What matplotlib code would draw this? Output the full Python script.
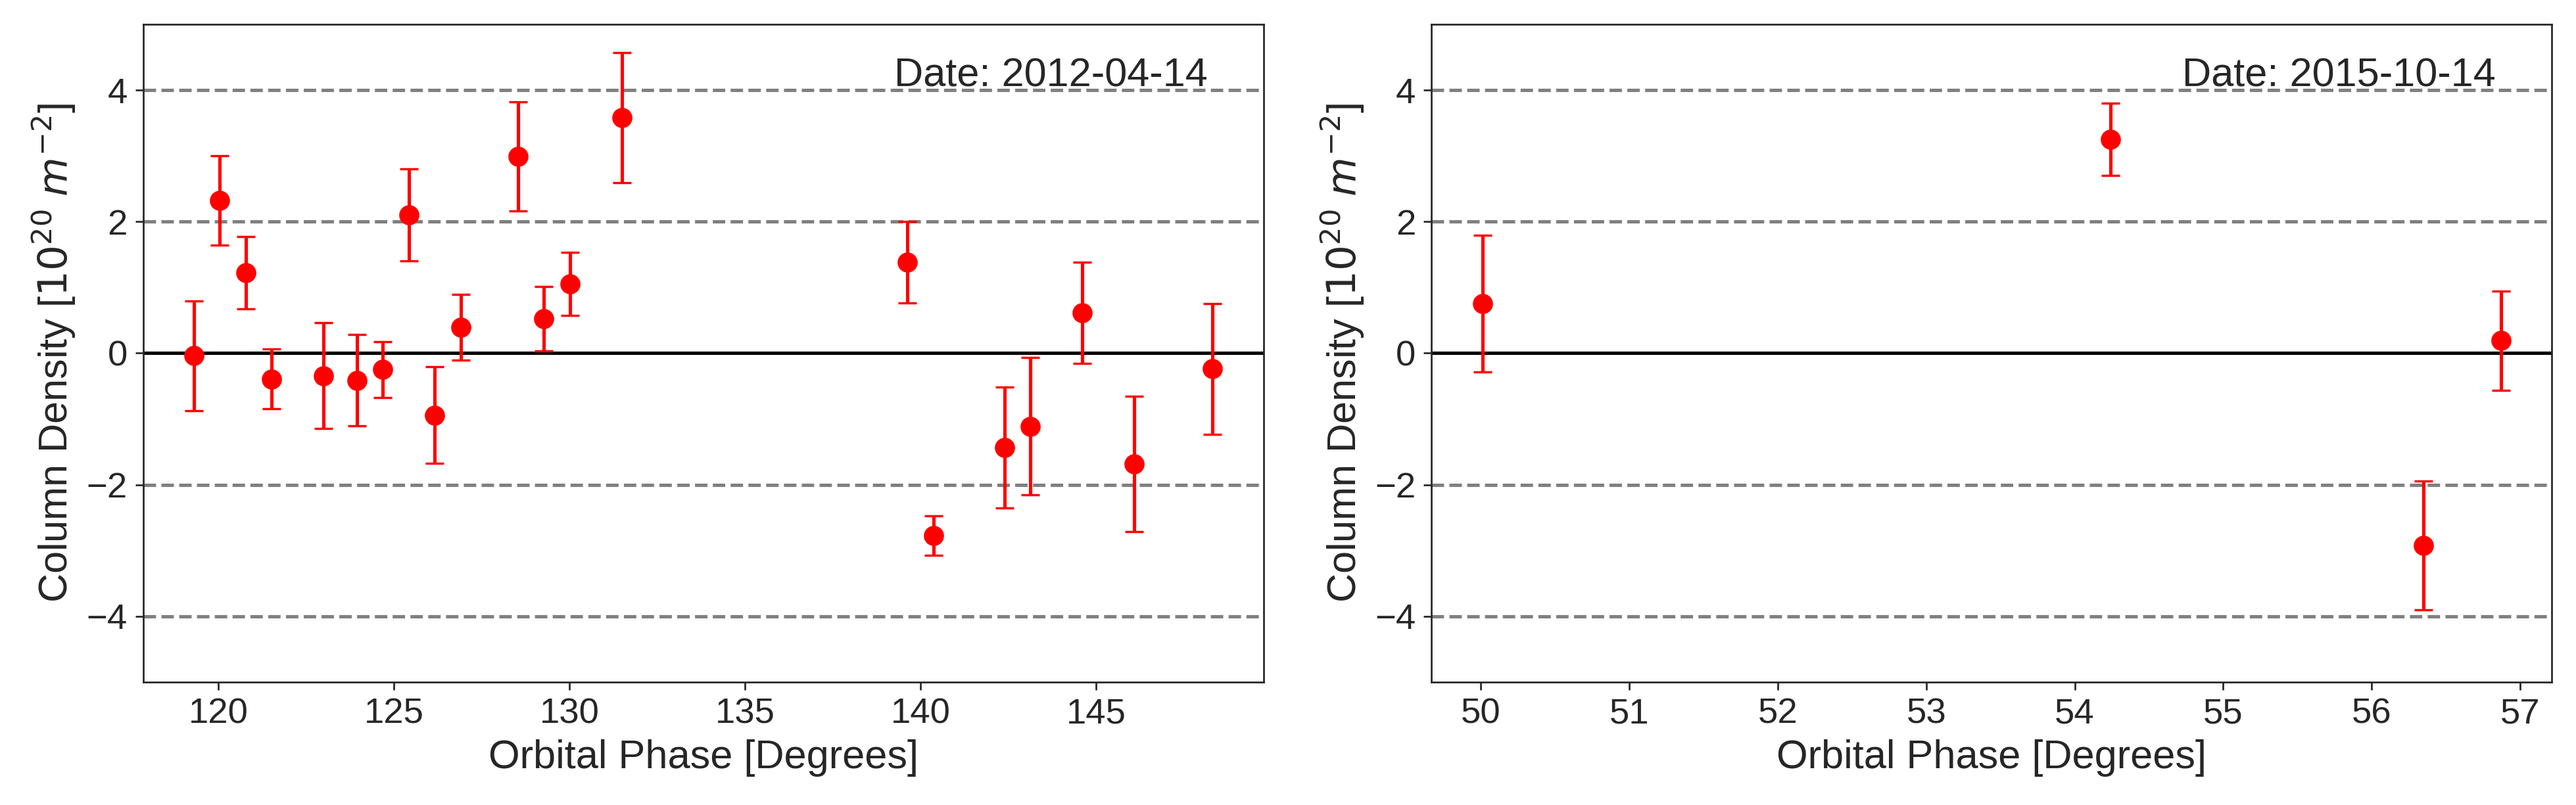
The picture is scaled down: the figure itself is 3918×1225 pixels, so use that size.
import numpy as np
import matplotlib
matplotlib.use("Agg")
import matplotlib.pyplot as plt

plt.rcParams['font.family'] = ['Liberation Sans', 'DejaVu Sans']
plt.rcParams['text.color'] = '.15'
plt.rcParams['axes.labelcolor'] = '.15'
plt.rcParams['axes.edgecolor'] = '.15'
plt.rcParams['xtick.color'] = '.15'
plt.rcParams['ytick.color'] = '.15'

# 2012-04-14 observations
phase1 = [119.31, 120.04, 120.79, 121.52, 123.00, 123.94, 124.68, 125.42, 126.16, 126.90,
          128.54, 129.27, 130.01, 131.49, 139.63, 140.37, 142.39, 143.13, 144.61, 146.09, 148.32]
dens1 = [-0.04, 2.32, 1.22, -0.39, -0.34, -0.41, -0.25, 2.10, -0.94, 0.39,
         2.99, 0.52, 1.05, 3.58, 1.38, -2.77, -1.43, -1.11, 0.61, -1.68, -0.24]
err1 = [0.83, 0.68, 0.55, 0.45, 0.80, 0.69, 0.42, 0.70, 0.73, 0.50,
        0.83, 0.49, 0.48, 0.99, 0.62, 0.30, 0.92, 1.04, 0.77, 1.03, 0.99]

# 2015-10-14 observations
phase2 = [50.01, 54.24, 56.35, 56.87]
dens2 = [0.75, 3.25, -2.92, 0.19]
err2 = [1.04, 0.55, 0.98, 0.75]

dates = ["2012-04-14", "2015-10-14"]

fig, axes = plt.subplots(1, 2, figsize=(3918/245, 1225/245), dpi=245)
plt.subplots_adjust(left=0.0556, right=0.9906, bottom=0.1527, top=0.9698, wspace=0.15)

for ax, x, y, e, d in zip(axes, [phase1, phase2], [dens1, dens2], [err1, err2], dates):
    for lev in [-4, -2, 2, 4]:
        ax.axhline(lev, color='gray', linestyle='--', lw=1.5)
    ax.axhline(0, color='black', lw=1.5)
    ax.errorbar(x, y, yerr=e, fmt='o', color='red', ms=8, capsize=4)
    ax.set_ylim(-5, 5)
    ax.set_yticks([-4, -2, 0, 2, 4])
    ax.tick_params(labelsize=16)
    ax.set_xlabel("Orbital Phase [Degrees]", fontsize=18)
    ax.set_ylabel("Column Density [$10^{20}$ $m^{-2}$]", fontsize=18)
    ax.text(0.95, 0.95, f"Date: {d}", transform=ax.transAxes, ha='right', va='top', fontsize=18)

fig.savefig("out.png", dpi=245)
